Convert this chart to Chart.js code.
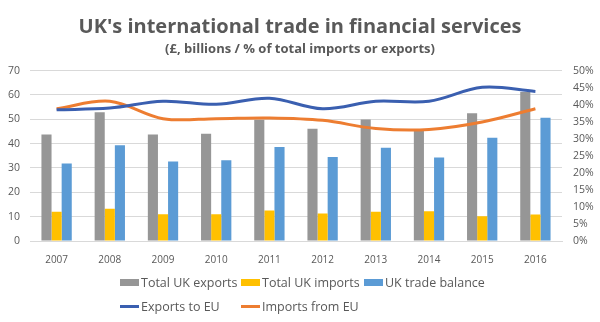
<!DOCTYPE html>
<html>
<head>
<meta charset="utf-8">
<script src="https://cdn.jsdelivr.net/npm/chart.js@4"></script>
<style>
  html, body { margin: 0; padding: 0; background: #fff; }
  #wrap { position: relative; width: 600px; height: 322px; }
  #legend {
    position: absolute; left: 120px; top: 273px;
    display: grid; grid-template-columns: 121px 123px auto; row-gap: 6px;
    font-family: "Open Sans", sans-serif; font-size: 12.5px; color: #595959;
  }
  .item { display: flex; align-items: center; white-space: nowrap; height: 18px; }
  .box { width: 19px; height: 7px; margin-right: 2px; }
  .line { width: 19px; height: 3px; margin-right: 2px; }
</style>
</head>
<body>
<div id="wrap">
  <canvas id="chart" width="600" height="322"></canvas>
  <div id="legend"></div>
</div>
<script>
// Years on the x axis
const years = ['2007', '2008', '2009', '2010', '2011', '2012', '2013', '2014', '2015', '2016'];

// £ billions (left axis)
const totalExports = [43.8, 52.9, 43.8, 44.1, 49.8, 46.1, 49.9, 45.6, 52.5, 61.2];
const totalImports = [12.0, 13.2, 11.0, 11.0, 12.5, 11.3, 12.0, 12.2, 10.2, 10.9];
const tradeBalance = [31.8, 39.3, 32.7, 33.2, 38.6, 34.5, 38.3, 34.3, 42.4, 50.6];

// % of total exports / imports (right axis)
const exportsToEU = [38.5, 39.0, 41.0, 40.1, 41.9, 38.8, 41.0, 41.0, 45.1, 43.9];
const importsFromEU = [38.8, 41.0, 35.9, 35.9, 36.1, 35.4, 33.0, 32.7, 34.9, 38.8];

const textColor = '#595959';
const gridColor = '#d9d9d9';

const colors = {
    exports: '#969696',
    imports: '#ffc000',
    balance: '#5b9bd5',
    euExports: '#3a5fb0',
    euImports: '#ed7d31'
};

const ctx = document.getElementById('chart').getContext('2d');

const chart = new Chart(ctx, {
    type: 'bar',
    data: {
        labels: years,
        datasets: [
            {
                type: 'line', label: 'Exports to EU', data: exportsToEU, yAxisID: 'yPct',
                borderColor: colors.euExports, borderWidth: 3, pointRadius: 0,
                tension: 0.35, fill: false, order: 0
            },
            {
                type: 'line', label: 'Imports from EU', data: importsFromEU, yAxisID: 'yPct',
                borderColor: colors.euImports, borderWidth: 3, pointRadius: 0,
                tension: 0.35, fill: false, order: 0
            },
            {
                label: 'Total UK exports', data: totalExports, yAxisID: 'y',
                backgroundColor: colors.exports, order: 1,
                categoryPercentage: 0.57, barPercentage: 1
            },
            {
                label: 'Total UK imports', data: totalImports, yAxisID: 'y',
                backgroundColor: colors.imports, order: 1,
                categoryPercentage: 0.57, barPercentage: 1
            },
            {
                label: 'UK trade balance', data: tradeBalance, yAxisID: 'y',
                backgroundColor: colors.balance, order: 1,
                categoryPercentage: 0.57, barPercentage: 1
            }
        ]
    },
    options: {
        responsive: false,
        animation: false,
        layout: { padding: { left: 0, right: 0, top: 0, bottom: 43 } },
        plugins: {
            legend: { display: false },
            tooltip: { enabled: false },
            title: {
                display: true,
                text: "UK's international trade in financial services",
                color: textColor,
                font: { family: '"Open Sans", sans-serif', size: 20, weight: 'bold' },
                padding: { top: 15, bottom: 2 }
            },
            subtitle: {
                display: true,
                text: '(£, billions / % of total imports or exports)',
                color: textColor,
                font: { family: '"Open Sans", sans-serif', size: 13, weight: 'bold' },
                padding: { top: 0, bottom: 14 }
            }
        },
        scales: {
            x: {
                grid: { display: false, drawTicks: false },
                border: { color: gridColor },
                ticks: {
                    color: textColor, padding: 13,
                    font: { family: '"Open Sans", sans-serif', size: 10 }
                }
            },
            y: {
                position: 'left', min: 0, max: 70,
                grid: { color: gridColor, drawTicks: false },
                border: { display: false },
                afterFit: scale => { scale.width = 30; },
                ticks: {
                    stepSize: 10, color: textColor, padding: 10,
                    font: { family: '"Open Sans", sans-serif', size: 10.5 }
                }
            },
            yPct: {
                position: 'right', min: 0, max: 50,
                grid: { display: false, drawTicks: false },
                border: { display: false },
                afterFit: scale => { scale.width = 38; },
                ticks: {
                    stepSize: 5, color: textColor, padding: 11,
                    font: { family: '"Open Sans", sans-serif', size: 10.5 },
                    callback: v => v + '%'
                }
            }
        }
    }
});

// Build a two-row legend like the original (bars on the first row, lines on the second)
const legendEl = document.getElementById('legend');
const legendOrder = [2, 3, 4, 0, 1];
legendOrder.forEach(i => {
    const ds = chart.data.datasets[i];
    const item = document.createElement('div');
    item.className = 'item';
    const swatch = document.createElement('span');
    if (ds.type === 'line') {
        swatch.className = 'line';
        swatch.style.background = ds.borderColor;
    } else {
        swatch.className = 'box';
        swatch.style.background = ds.backgroundColor;
    }
    item.appendChild(swatch);
    item.appendChild(document.createTextNode(ds.label));
    legendEl.appendChild(item);
});
</script>
</body>
</html>
